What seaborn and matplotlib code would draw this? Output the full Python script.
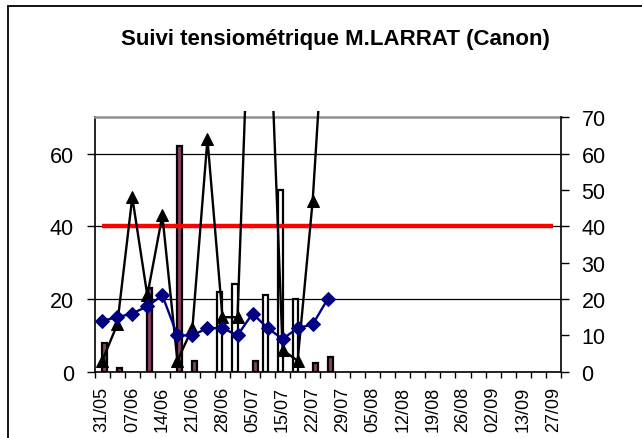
import numpy as np
import pandas as pd
import matplotlib
matplotlib.use("Agg")
import matplotlib.pyplot as plt
import seaborn as sns
from matplotlib.transforms import Bbox, TransformedBbox
from matplotlib.patches import Rectangle

# ---------------- data ----------------
dates = ["31/05", "03/06", "07/06", "10/06", "14/06", "17/06", "21/06", "24/06",
         "28/06", "01/07", "05/07", "08/07", "15/07", "19/07", "22/07", "26/07",
         "29/07", "01/08", "05/08", "08/08", "12/08", "15/08", "19/08", "22/08",
         "26/08", "29/08", "02/09", "06/09", "13/09", "20/09", "27/09"]

# irrigation (white bars) and rain (dark red bars), mm
irrigation = [np.nan] * 8 + [22, 24, np.nan, 21, 50, 20] + [np.nan] * 17
pluie = [8, 1, np.nan, 23, np.nan, 62, 3, np.nan, np.nan, np.nan, 3, np.nan,
         np.nan, np.nan, 2.5, 4] + [np.nan] * 15

# tensiometer readings (cbar)
tensio_30 = [3, 13, 48, 21, 43, 3, 12, 64, 15, 15, 129, 114, 6, 3, 47, 113] + [np.nan] * 15
tensio_60 = [14, 15, 16, 18, 21, 10, 10, 12, 12, 10, 16, 12, 9, 12, 13, 20] + [np.nan] * 15
seuil = [40] * 31

left_ticks = [0, 20, 40, 60]
right_ticks = [0, 10, 20, 30, 40, 50, 60, 70]
title = "Suivi tensiométrique M.LARRAT (Canon)"

# ---------------- style ----------------
sns.set_theme(style="white")
plt.rcParams["font.family"] = ["Liberation Sans", "DejaVu Sans"]
plt.rcParams["text.color"] = "black"
plt.rcParams["xtick.color"] = "black"
plt.rcParams["ytick.color"] = "black"
plt.rcParams["xtick.labelcolor"] = "black"
plt.rcParams["ytick.labelcolor"] = "black"

W, H = 642, 439
fig = plt.figure(figsize=(W / 100, H / 100), dpi=100)
L, R, T, B = 94.7, 560.7, 118.3, 372.7
ax = fig.add_axes([L / W, 1 - B / H, (R - L) / W, (B - T) / H])

# bars
df = pd.DataFrame({
    "date": dates * 2,
    "serie": ["Irrigation"] * len(dates) + ["Pluie"] * len(dates),
    "valeur": irrigation + pluie,
}).dropna()
sns.barplot(data=df, x="date", y="valeur", hue="serie", order=dates,
            hue_order=["Irrigation", "Pluie"],
            palette={"Irrigation": "white", "Pluie": "#993366"},
            width=2 / 3, dodge=True, edgecolor="black", linewidth=1.6,
            errorbar=None, legend=False, ax=ax, zorder=2)

xpos = np.arange(len(dates))
ax.plot(xpos, seuil, color="#FF0000", lw=3.2, zorder=3, solid_capstyle="butt")
sns.lineplot(x=xpos, y=tensio_30, color="black", lw=1.7, marker="^",
             markersize=8.5, markeredgecolor="black", ax=ax, zorder=4)
line_black = ax.lines[-1]
sns.lineplot(x=xpos, y=tensio_60, color="#000080", lw=1.7, marker="D",
             markersize=7, markeredgecolor="#000080", ax=ax, zorder=5)

clip = TransformedBbox(Bbox.from_extents(0, 0, 1, 1 + 6.5 / (B - T)), ax.transAxes)
line_black.set_clip_box(clip)

ax.set_xlim(-0.5, len(dates) - 0.5)
ax.set_ylim(0, 70)
ax.set_xlabel("")
ax.set_ylabel("")

# x axis: tick marks between categories, labels every other category
ax.set_xticks(np.arange(-0.5, len(dates), 1))
ax.set_xticklabels([])
ax.set_xticks(xpos[::2], minor=True)
ax.set_xticklabels(dates[::2], minor=True, rotation=90, fontsize=13)
ax.tick_params(axis="x", which="major", length=4, width=1, color="black",
               direction="out", bottom=True)
ax.tick_params(axis="x", which="minor", length=0, pad=10, bottom=True)

ax.set_yticks(left_ticks)
ax.set_yticklabels([str(v) for v in left_ticks], fontsize=15.5)
ax.tick_params(axis="y", length=6, width=1, color="black", direction="out",
               left=True, pad=9)
ax.yaxis.grid(True, color="black", lw=0.9)
ax.set_axisbelow(True)

for s in ["left", "bottom"]:
    ax.spines[s].set_color("black")
    ax.spines[s].set_linewidth(1.2)
ax.spines["top"].set_color("#909090")
ax.spines["top"].set_linewidth(1.8)
ax.spines["right"].set_visible(False)

ax2 = ax.twinx()
ax2.set_ylim(0, 70)
ax2.set_yticks(right_ticks)
ax2.set_yticklabels([str(v) for v in right_ticks], fontsize=15.5)
ax2.tick_params(axis="y", length=6, width=1, color="black", direction="out",
                right=True, pad=9)
ax2.grid(False)
for s in ["left", "bottom", "top"]:
    ax2.spines[s].set_visible(False)
ax2.spines["right"].set_color("black")
ax2.spines["right"].set_linewidth(1.2)

fig.text(335 / W, 1 - 40 / H, title, ha="center", va="center",
         fontsize=16, fontweight="bold", color="black")

# chart area border (left and top visible)
fig.patches.append(Rectangle((8 / W, -0.1), 1.2, 1 - 7 / H + 0.1,
                             transform=fig.transFigure, fill=False,
                             edgecolor="black", lw=1.3))

fig.savefig("out.png", dpi=100)
